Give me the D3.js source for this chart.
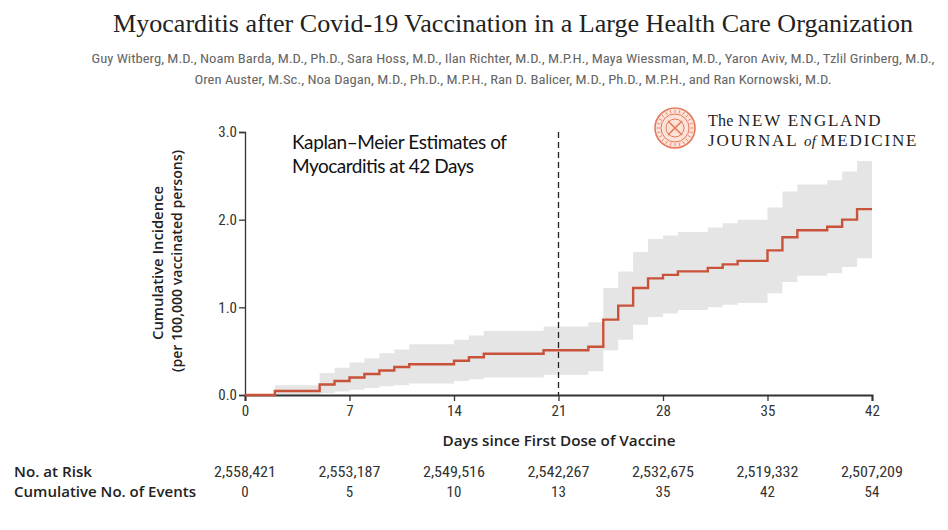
<!DOCTYPE html>
<html>
<head>
<meta charset="utf-8">
<script src="https://cdn.jsdelivr.net/npm/d3@7/dist/d3.min.js"></script>
<style>
  html, body { margin: 0; padding: 0; background: #fff; }
  svg { display: block; }
  .cond { font-family: "Liberation Sans Narrow", "Roboto Condensed", "Roboto", sans-serif; }
  .lab { font-family: "Open Sans", "Noto Sans", sans-serif; font-weight: 600; }
</style>
</head>
<body>
<svg id="chart" width="948" height="530"></svg>
<script>
// ---------- data ----------
const title = "Myocarditis after Covid-19 Vaccination in a Large Health Care Organization";
const authorLines = [
  "Guy Witberg, M.D., Noam Barda, M.D., Ph.D., Sara Hoss, M.D., Ilan Richter, M.D., M.P.H., Maya Wiessman, M.D., Yaron Aviv, M.D., Tzlil Grinberg, M.D.,",
  "Oren Auster, M.Sc., Noa Dagan, M.D., Ph.D., M.P.H., Ran D. Balicer, M.D., Ph.D., M.P.H., and Ran Kornowski, M.D."
];
const days     = [0, 2, 5, 6, 7, 8, 9, 10, 11, 14, 15, 16, 20, 23, 24, 25, 26, 27, 28, 29, 31, 32, 33, 35, 36, 37, 39, 40, 41, 42];
const estimate = [0, 0.045, 0.12, 0.16, 0.20, 0.24, 0.28, 0.32, 0.35, 0.39, 0.43, 0.47, 0.51, 0.55, 0.86, 1.02, 1.22, 1.33, 1.37, 1.41, 1.45, 1.49, 1.53, 1.65, 1.80, 1.88, 1.92, 2.00, 2.12, 2.12];
const upperCI  = [0, 0.11, 0.25, 0.31, 0.37, 0.42, 0.475, 0.52, 0.58, 0.63, 0.68, 0.73, 0.78, 0.83, 1.22, 1.41, 1.63, 1.78, 1.82, 1.86, 1.91, 1.96, 2.00, 2.14, 2.32, 2.40, 2.45, 2.55, 2.67, 2.67];
const lowerCI  = [0, 0.0, 0.02, 0.04, 0.06, 0.08, 0.10, 0.11, 0.13, 0.16, 0.18, 0.20, 0.23, 0.27, 0.51, 0.63, 0.80, 0.89, 0.93, 0.97, 1.00, 1.03, 1.05, 1.16, 1.29, 1.36, 1.39, 1.46, 1.56, 1.56];
const xTicks = [0, 7, 14, 21, 28, 35, 42];
const yTicks = [0, 1, 2, 3];
const atRisk = ["2,558,421", "2,553,187", "2,549,516", "2,542,267", "2,532,675", "2,519,332", "2,507,209"];
const events = ["0", "5", "10", "13", "35", "42", "54"];
const markerDay = 21;

// ---------- layout ----------
const svg = d3.select("#chart");
const x = d3.scaleLinear().domain([0, 42]).range([245, 872]);
const y = d3.scaleLinear().domain([0, 3]).range([395, 132]);
const pts = days.map((d, i) => ({ d, e: estimate[i], lo: lowerCI[i], hi: upperCI[i] }));

// title
svg.append("text").attr("x", 513).attr("y", 32).attr("text-anchor", "middle")
  .attr("font-family", "Liberation Serif, DejaVu Serif, serif").attr("font-size", 26)
  .attr("fill", "#222").attr("textLength", 800).attr("lengthAdjust", "spacingAndGlyphs").text(title);

// authors
const authorLens = [843, 637];
authorLines.forEach((t, i) => {
  svg.append("text").attr("class", "cond").attr("x", 513).attr("y", 63 + i * 21)
    .attr("text-anchor", "middle").attr("font-size", 13).attr("fill", "#666")
    .attr("textLength", authorLens[i]).attr("lengthAdjust", "spacingAndGlyphs").text(t);
});

// logo
const logo = svg.append("g").attr("transform", "translate(675,128)");
const orange = "#e8785b";
logo.append("circle").attr("r", 20).attr("fill", "#fbe3da").attr("stroke", orange).attr("stroke-width", 1.6);
logo.append("circle").attr("r", 14).attr("fill", "none").attr("stroke", orange).attr("stroke-width", 1);
logo.append("circle").attr("r", 9).attr("fill", "none").attr("stroke", orange).attr("stroke-width", 1);
logo.append("path").attr("d", "M-7,-7L7,7M7,-7L-7,7").attr("stroke", orange).attr("stroke-width", 1.6);
logo.selectAll("line.rad").data(d3.range(24)).enter().append("line")
  .attr("x1", d => 15 * Math.cos(d * Math.PI / 12)).attr("y1", d => 15 * Math.sin(d * Math.PI / 12))
  .attr("x2", d => 18.5 * Math.cos(d * Math.PI / 12)).attr("y2", d => 18.5 * Math.sin(d * Math.PI / 12))
  .attr("stroke", orange).attr("stroke-width", 0.8);

const serif = "Liberation Serif, DejaVu Serif, serif";
const t1 = svg.append("text").attr("x", 708).attr("y", 126).attr("font-family", serif)
  .attr("font-size", 16).attr("fill", "#222").attr("textLength", 174).attr("lengthAdjust", "spacing");
t1.append("tspan").text("The ");
t1.append("tspan").attr("font-size", 17).attr("letter-spacing", 1.5).text("NEW ENGLAND");
const t2 = svg.append("text").attr("x", 708).attr("y", 146).attr("font-family", serif)
  .attr("font-size", 17).attr("fill", "#222").attr("textLength", 210).attr("lengthAdjust", "spacing");
t2.append("tspan").attr("letter-spacing", 1.5).text("JOURNAL ");
t2.append("tspan").attr("font-style", "italic").attr("font-size", 15).text("of ");
t2.append("tspan").attr("letter-spacing", 1.5).text("MEDICINE");

// CI band
const area = d3.area().curve(d3.curveStepAfter)
  .x(p => x(p.d)).y0(p => y(p.lo)).y1(p => y(p.hi));
svg.append("path").datum(pts.slice(1)).attr("d", area).attr("fill", "#e5e5e5");

// axes
const axisColor = "#333";
const yAxis = svg.append("g").attr("transform", "translate(245,0)")
  .call(d3.axisLeft(y).tickValues(yTicks).tickFormat(d3.format(".1f")).tickSize(6).tickPadding(2));
const xAxis = svg.append("g").attr("transform", "translate(0,395)")
  .call(d3.axisBottom(x).tickValues(xTicks).tickSize(6).tickPadding(4));
[xAxis, yAxis].forEach(g => {
  g.select(".domain").attr("stroke", axisColor).attr("stroke-width", 1.3);
  g.selectAll(".tick line").attr("stroke", axisColor).attr("stroke-width", 1.3);
  g.selectAll(".tick text").attr("class", "cond").attr("font-size", 15).attr("fill", "#333");
});
xAxis.select(".domain").attr("stroke-width", 2);

// dashed line at 21 days
svg.append("line").attr("x1", x(markerDay)).attr("x2", x(markerDay))
  .attr("y1", y(3)).attr("y2", y(0))
  .attr("stroke", "#222").attr("stroke-width", 1.3).attr("stroke-dasharray", "6,4");

// KM line
const line = d3.line().curve(d3.curveStepAfter).x(p => x(p.d)).y(p => y(p.e));
svg.append("path").datum(pts).attr("d", line).attr("fill", "none")
  .attr("stroke", "#c9533a").attr("stroke-width", 2.4);

// annotation
const ann = svg.append("text").attr("font-family", "Lato, 'Open Sans', sans-serif")
  .attr("font-size", 19).attr("fill", "#111");
ann.append("tspan").attr("x", 292).attr("y", 149).attr("textLength", 215).text("Kaplan\u2013Meier Estimates of");
ann.append("tspan").attr("x", 292).attr("y", 173).attr("textLength", 182).text("Myocarditis at 42 Days");

// y axis labels
svg.append("text").attr("class", "lab").attr("transform", "translate(163,263) rotate(-90)")
  .attr("font-size", 14.5).attr("fill", "#222").attr("text-anchor", "middle")
  .attr("textLength", 154).attr("lengthAdjust", "spacingAndGlyphs").text("Cumulative Incidence");
svg.append("text").attr("class", "lab").attr("transform", "translate(182,261) rotate(-90)")
  .attr("font-size", 14.5).attr("fill", "#222").attr("text-anchor", "middle")
  .attr("textLength", 222).attr("lengthAdjust", "spacingAndGlyphs").text("(per 100,000 vaccinated persons)");

// x axis title
svg.append("text").attr("class", "lab").attr("x", 559).attr("y", 446).attr("text-anchor", "middle")
  .attr("font-size", 14.5).attr("fill", "#222")
  .attr("textLength", 233).attr("lengthAdjust", "spacingAndGlyphs")
  .text("Days since First Dose of Vaccine");

// risk table
svg.append("text").attr("class", "lab").attr("x", 14).attr("y", 477)
  .attr("font-size", 15).attr("fill", "#222")
  .attr("textLength", 78).attr("lengthAdjust", "spacingAndGlyphs").text("No. at Risk");
svg.append("text").attr("class", "lab").attr("x", 14).attr("y", 497)
  .attr("font-size", 15).attr("fill", "#222")
  .attr("textLength", 182).attr("lengthAdjust", "spacingAndGlyphs").text("Cumulative No. of Events");
svg.selectAll("text.risk").data(atRisk).enter().append("text").attr("class", "cond risk")
  .attr("x", (d, i) => x(xTicks[i])).attr("y", 477).attr("text-anchor", "middle")
  .attr("font-size", 15).attr("fill", "#333").attr("textLength", 62).attr("lengthAdjust", "spacingAndGlyphs")
  .text(d => d);
svg.selectAll("text.ev").data(events).enter().append("text").attr("class", "cond ev")
  .attr("x", (d, i) => x(xTicks[i])).attr("y", 497).attr("text-anchor", "middle")
  .attr("font-size", 15).attr("fill", "#333").text(d => d);
</script>
</body>
</html>
